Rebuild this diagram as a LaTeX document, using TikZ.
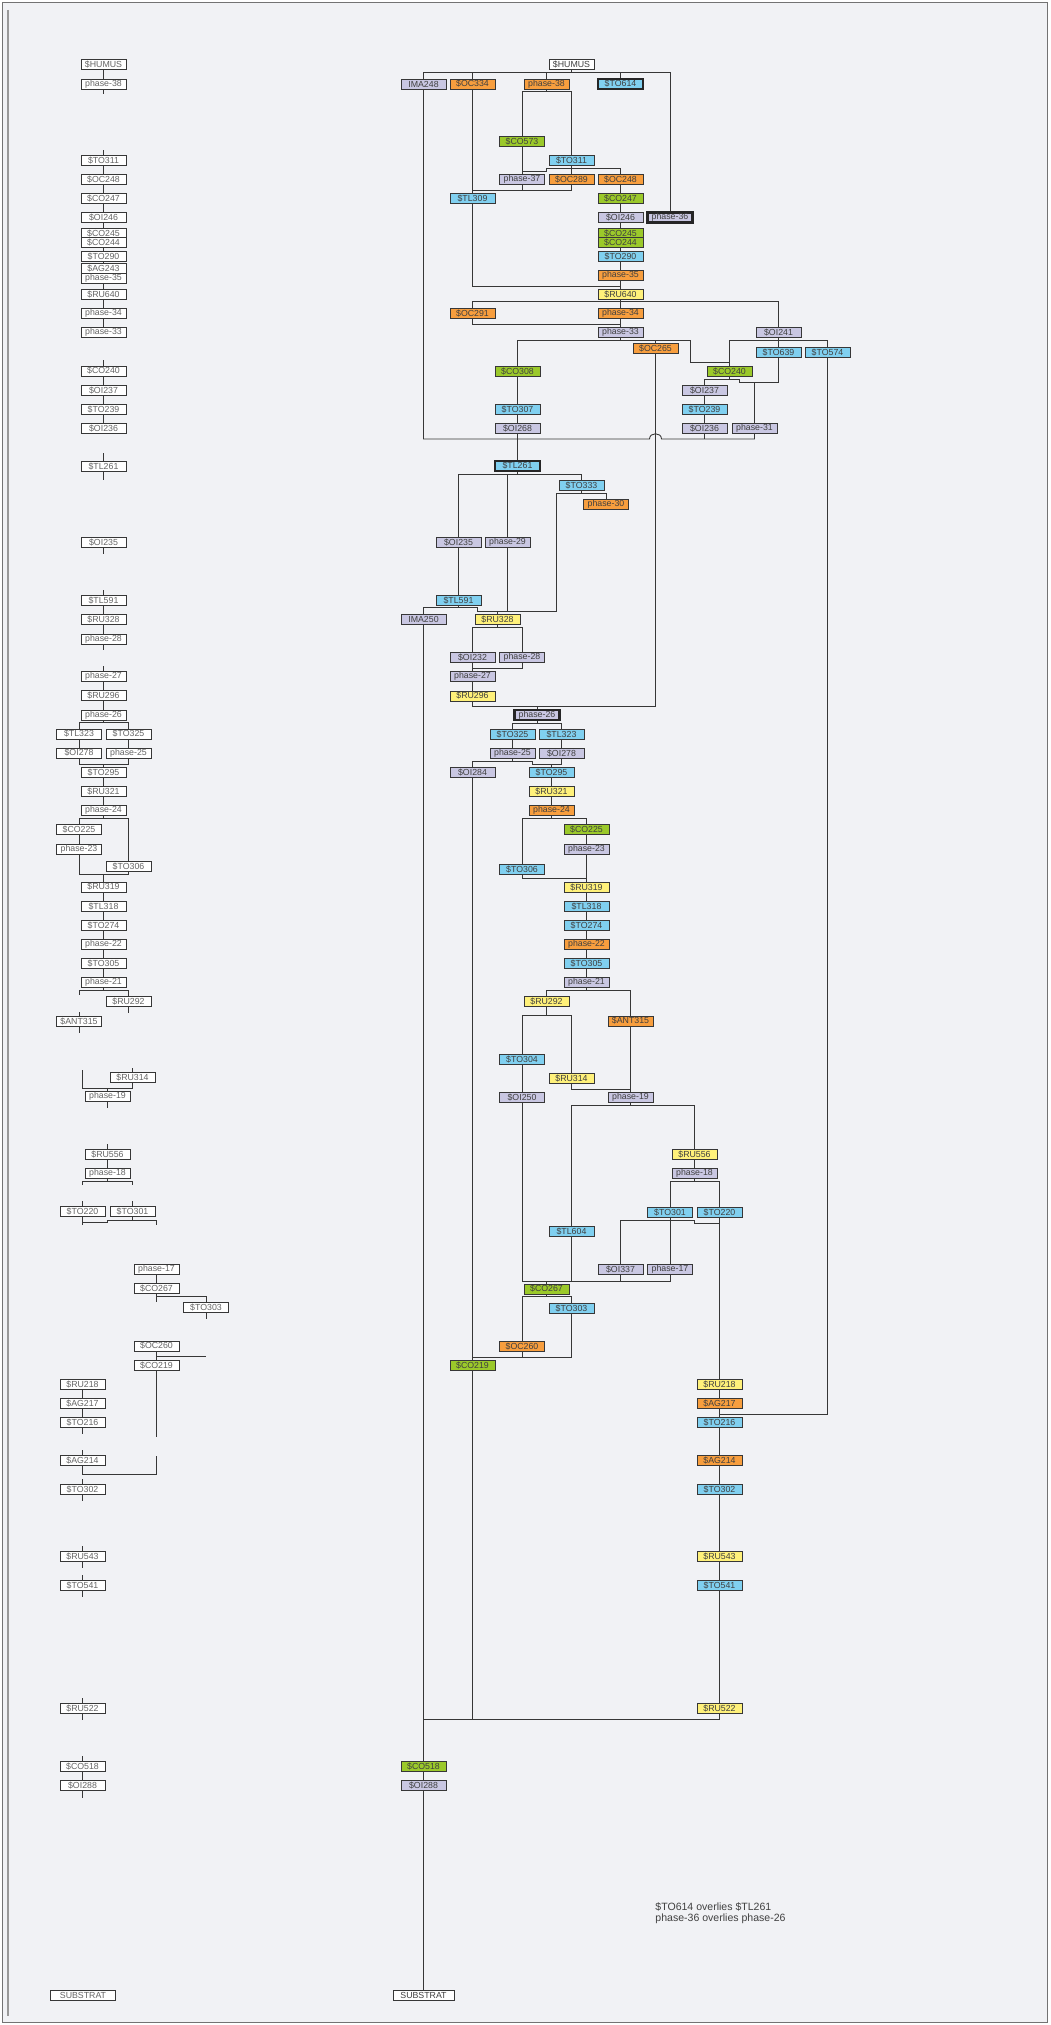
\documentclass[tikz,border=0pt]{standalone}
\usepackage{fontspec}
\setmainfont{Liberation Sans}
\definecolor{bgcol}{RGB}{241,242,245}
\definecolor{linecol}{RGB}{55,55,55}
\definecolor{orabox}{RGB}{247,158,62}
\definecolor{grebox}{RGB}{155,201,42}
\definecolor{cyabox}{RGB}{128,208,240}
\definecolor{lavbox}{RGB}{201,199,226}
\definecolor{yelbox}{RGB}{255,241,122}
\tikzset{
  unit/.style={
    rectangle,
    draw=linecol,
    line width=0.5pt,
    minimum width=9mm,
    minimum height=2mm,
    inner sep=0pt,
    text=black!75,
    font=\fontsize{5}{5}\selectfont
  },
  ora/.style={unit, fill=orabox},
  gre/.style={unit, fill=grebox},
  cya/.style={unit, fill=cyabox},
  lav/.style={unit, fill=lavbox},
  yel/.style={unit, fill=yelbox},
  wht/.style={unit, fill=white},
  seq/.style={unit, fill=white, text=black!60},
  overlie/.style={line width=1.3pt, draw=black!85}
}
\begin{document}
\begin{tikzpicture}[x=0.2mm, y=-0.2mm, line width=0.5pt, color=linecol]
  \useasboundingbox (0,0) rectangle (1050,2025);
  \fill[white] (0,0) rectangle (1050,2025);
  \draw[black!55, fill=bgcol] (2.5,2.5) rectangle (1047.5,2022.5);
  \draw[black!40, line width=1.2pt] (8,10) -- (8,2016);

  % Sequence column
  \node[seq] (lhumus) at (103.5,64.5) {\$HUMUS};
  \node[seq] (lph38) at (103.5,84) {phase-38};
  \node[seq] (lto311) at (103.5,160.5) {\$TO311};
  \node[seq] (loc248) at (103.5,179.5) {\$OC248};
  \node[seq] (lco247) at (103.5,198.5) {\$CO247};
  \node[seq] (loi246) at (103.5,217.5) {\$OI246};
  \node[seq] (lco245) at (103.5,233.5) {\$CO245};
  \node[seq] (lco244) at (103.5,242.5) {\$CO244};
  \node[seq] (lto290) at (103.5,256.5) {\$TO290};
  \node[seq] (lag243) at (103.5,268.5) {\$AG243};
  \node[seq] (lph35) at (103.5,278) {phase-35};
  \node[seq] (lru640) at (103.5,294.5) {\$RU640};
  \node[seq] (lph34) at (103.5,313.5) {phase-34};
  \node[seq] (lph33) at (103.5,332.5) {phase-33};
  \node[seq] (lco240) at (103.5,371) {\$CO240};
  \node[seq] (loi237) at (103.5,390.5) {\$OI237};
  \node[seq] (lto239) at (103.5,409.5) {\$TO239};
  \node[seq] (loi236) at (103.5,428.5) {\$OI236};
  \node[seq] (ltl261) at (103.5,466.5) {\$TL261};
  \node[seq] (loi235) at (103.5,542.5) {\$OI235};
  \node[seq] (ltl591) at (103.5,600.5) {\$TL591};
  \node[seq] (lru328) at (103.5,619.5) {\$RU328};
  \node[seq] (lph28) at (103.5,639) {phase-28};
  \node[seq] (lph27) at (103.5,676.5) {phase-27};
  \node[seq] (lru296) at (103.5,695.5) {\$RU296};
  \node[seq] (lph26) at (103.5,715) {phase-26};
  \node[seq] (ltl323) at (79,734) {\$TL323};
  \node[seq] (lto325) at (128.5,734) {\$TO325};
  \node[seq] (loi278) at (79,753) {\$OI278};
  \node[seq] (lph25) at (128.5,753) {phase-25};
  \node[seq] (lto295) at (103.5,772.5) {\$TO295};
  \node[seq] (lru321) at (103.5,791.5) {\$RU321};
  \node[seq] (lph24) at (103.5,810.5) {phase-24};
  \node[seq] (lco225) at (79,829.5) {\$CO225};
  \node[seq] (lph23) at (79,849) {phase-23};
  \node[seq] (lto306) at (128.5,866.5) {\$TO306};
  \node[seq] (lru319) at (103.5,887) {\$RU319};
  \node[seq] (ltl318) at (103.5,906.5) {\$TL318};
  \node[seq] (lto274) at (103.5,925.5) {\$TO274};
  \node[seq] (lph22) at (103.5,944.5) {phase-22};
  \node[seq] (lto305) at (103.5,963.5) {\$TO305};
  \node[seq] (lph21) at (103.5,982.5) {phase-21};
  \node[seq] (lru292) at (128.5,1001.5) {\$RU292};
  \node[seq] (lant315) at (79,1021.5) {\$ANT315};
  \node[seq] (lru314) at (132.5,1077.5) {\$RU314};
  \node[seq] (lph19) at (107.5,1096.5) {phase-19};
  \node[seq] (lru556) at (107.5,1154.5) {\$RU556};
  \node[seq] (lph18) at (107.5,1173.5) {phase-18};
  \node[seq] (lto220) at (82.5,1211.5) {\$TO220};
  \node[seq] (lto301) at (132.5,1211.5) {\$TO301};
  \node[seq] (lph17) at (156.5,1269.5) {phase-17};
  \node[seq] (lco267) at (156.5,1288.5) {\$CO267};
  \node[seq] (lto303) at (206,1307.5) {\$TO303};
  \node[seq] (loc260) at (156.5,1346) {\$OC260};
  \node[seq] (lco219) at (156.5,1365.5) {\$CO219};
  \node[seq] (lru218) at (82.5,1384.5) {\$RU218};
  \node[seq] (lag217) at (82.5,1403.5) {\$AG217};
  \node[seq] (lto216) at (82.5,1422.5) {\$TO216};
  \node[seq] (lag214) at (82.5,1460.5) {\$AG214};
  \node[seq] (lto302) at (82.5,1489.5) {\$TO302};
  \node[seq] (lru543) at (82.5,1556.5) {\$RU543};
  \node[seq] (lto541) at (82.5,1585.5) {\$TO541};
  \node[seq] (lru522) at (82.5,1708.5) {\$RU522};
  \node[seq] (lco518) at (82.5,1766.5) {\$CO518};
  \node[seq] (loi288) at (82.5,1785.5) {\$OI288};
  \node[seq, minimum width=13mm] (lsubstrat) at (83,1995.5) {SUBSTRAT};

  % Sequence column links
  \draw (lhumus.south) -- (lph38.north);
  \draw (lph38.south) -- ++(0,5);
  \draw (lto311.north) -- ++(0,-5);
  \draw (lto311.south) -- (loc248.north);
  \draw (loc248.south) -- (lco247.north);
  \draw (lco247.south) -- (loi246.north);
  \draw (loi246.south) -- (lco245.north);
  \draw (lco244.south) -- (lto290.north);
  \draw (lto290.south) -- (lag243.north);
  \draw (lph35.south) -- (lru640.north);
  \draw (lru640.south) -- (lph34.north);
  \draw (lph34.south) -- (lph33.north);
  \draw (lco240.north) -- ++(0,-6);
  \draw (lco240.south) -- (loi237.north);
  \draw (loi237.south) -- (lto239.north);
  \draw (lto239.south) -- (loi236.north);
  \draw (ltl261.north) -- ++(0,-8);
  \draw (ltl261.south) -- ++(0,8);
  \draw (loi235.south) -- ++(0,6);
  \draw (ltl591.north) -- ++(0,-5);
  \draw (ltl591.south) -- (lru328.north);
  \draw (lru328.south) -- (lph28.north);
  \draw (lph28.south) -- ++(0,6);
  \draw (lph27.north) -- ++(0,-5);
  \draw (lph27.south) -- (lru296.north);
  \draw (lru296.south) -- (lph26.north);
  \draw (lph26.south) -- (lph26 |- 0,722.5) -| (ltl323.north);
  \draw (lph26 |- 0,722.5) -| (lto325.north);
  \draw (ltl323.south) -- (loi278.north);
  \draw (lto325.south) -- (lph25.north);
  \draw (loi278.south) -- (loi278 |- 0,764) -| (lto295.north);
  \draw (lph25.south) -- (lph25 |- 0,764) -| (lto295.north);
  \draw (lto295.south) -- (lru321.north);
  \draw (lru321.south) -- (lph24.north);
  \draw (lph24.south) -- (lph24 |- 0,818.5) -| (lco225.north);
  \draw (lph24 |- 0,818.5) -| (lto306.north);
  \draw (lco225.south) -- (lph23.north);
  \draw (lph23.south) -- (lph23 |- 0,874.5) -| (lru319.north);
  \draw (lto306.south) -- (lto306 |- 0,874.5) -| (lru319.north);
  \draw (lru319.south) -- (ltl318.north);
  \draw (ltl318.south) -- (lto274.north);
  \draw (lto274.south) -- (lph22.north);
  \draw (lph22.south) -- (lto305.north);
  \draw (lto305.south) -- (lph21.north);
  \draw (lph21.south) -- (lph21 |- 0,990.5) -| (lru292.north);
  \draw (lph21 |- 0,990.5) -| (lant315 |- 0,994.5);
  \draw (lru292.south) -- ++(0,6);
  \draw (lant315.north) -- ++(0,-4);
  \draw (lant315.south) -- ++(0,6);
  \coordinate (lcut19) at (82.5,1070);
  \draw (lcut19) |- (lru314 |- 0,1088.5) -- (lru314.south);
  \draw (lru314.north) -- ++(0,-4);
  \draw (lph19 |- 0,1088.5) -- (lph19.north);
  \draw (lph19.south) -- ++(0,6);
  \draw (lru556.north) -- ++(0,-5);
  \draw (lru556.south) -- (lph18.north);
  \draw (lph18.south) -- (lph18 |- 0,1181.5);
  \draw (lto220 |- 0,1185) |- (lto301 |- 0,1181.5) -- (lto301 |- 0,1185);
  \draw (lto220.north) -- ++(0,-5);
  \draw (lto301.north) -- ++(0,-5);
  \draw (lto220.south) -- (lto220 |- 0,1225);
  \draw (lto220 |- 0,1222.5) -- (lph19 |- 0,1222.5) -- (lph19 |- 0,1220) -| (lph17 |- 0,1225);
  \draw (lto301.south) -- (lto301 |- 0,1220);
  \draw (lph17.south) -- (lco267.north);
  \draw (lco267.south) -- (lco267 |- 0,1301.5);
  \draw (lco267 |- 0,1296.5) -| (lto303.north);
  \draw (lto303.south) -- ++(0,6);
  \draw (loc260.south) -- (lco219.north);
  \draw (loc260 |- 0,1356.5) -- (lto303 |- 0,1356.5);
  \draw (lco219.south) -- (lco219 |- 0,1436.5);
  \draw (lru218.south) -- (lag217.north);
  \draw (lag217.south) -- (lto216.north);
  \draw (lto216.south) -- ++(0,6);
  \draw (lag214.north) -- ++(0,-5);
  \draw (lag214.south) -- (lag214 |- 0,1474) -| (lco219 |- 0,1455.5);
  \draw (lto302.north) -- ++(0,-5);
  \draw (lto302.south) -- ++(0,6);
  \draw (lru543.north) -- ++(0,-5);
  \draw (lru543.south) -- ++(0,6);
  \draw (lto541.north) -- ++(0,-5);
  \draw (lto541.south) -- ++(0,6);
  \draw (lru522.north) -- ++(0,-5);
  \draw (lru522.south) -- ++(0,6);
  \draw (lco518.north) -- ++(0,-5);
  \draw (lco518.south) -- (loi288.north);
  \draw (loi288.south) -- ++(0,7);

  % Matrix units
  \node[wht] (humus) at (571.5,64.5) {\$HUMUS};
  \node[lav] (ima248) at (423.5,84) {IMA248};
  \node[ora] (oc334) at (472.5,84) {\$OC334};
  \node[ora] (ph38) at (546.5,84) {phase-38};
  \node[cya, overlie] (to614) at (620.5,84) {\$TO614};
  \node[gre] (co573) at (522,141.5) {\$CO573};
  \node[cya] (to311) at (571.5,160.5) {\$TO311};
  \node[lav] (ph37) at (522,179.5) {phase-37};
  \node[ora] (oc289) at (571.5,179.5) {\$OC289};
  \node[ora] (oc248) at (620.5,179.5) {\$OC248};
  \node[cya] (tl309) at (472.5,198.5) {\$TL309};
  \node[gre] (co247) at (620.5,198.5) {\$CO247};
  \node[lav] (oi246) at (620.5,217.5) {\$OI246};
  \node[lav, overlie] (ph36) at (670,217.5) {phase-36};
  \node[gre] (co245) at (620.5,233.5) {\$CO245};
  \node[gre] (co244) at (620.5,242.5) {\$CO244};
  \node[cya] (to290) at (620.5,256.5) {\$TO290};
  \node[ora] (ph35) at (620.5,275.5) {phase-35};
  \node[yel] (ru640) at (620.5,294.5) {\$RU640};
  \node[ora] (oc291) at (472.5,313.5) {\$OC291};
  \node[ora] (ph34) at (620.5,313.5) {phase-34};
  \node[lav] (ph33) at (620.5,332.5) {phase-33};
  \node[lav] (oi241) at (778.5,332.5) {\$OI241};
  \node[ora] (oc265) at (655.5,348.5) {\$OC265};
  \node[cya] (to639) at (778.5,352.5) {\$TO639};
  \node[cya] (to574) at (827.5,352.5) {\$TO574};
  \node[gre] (co308) at (517.5,371.5) {\$CO308};
  \node[gre] (co240) at (729.5,371.5) {\$CO240};
  \node[lav] (oi237) at (704.5,390.5) {\$OI237};
  \node[cya] (to307) at (517.5,409.5) {\$TO307};
  \node[cya] (to239) at (704.5,409.5) {\$TO239};
  \node[lav] (oi268) at (517.5,428.5) {\$OI268};
  \node[lav] (oi236) at (704.5,428.5) {\$OI236};
  \node[lav] (ph31) at (754.5,428.5) {phase-31};
  \node[cya, overlie] (tl261) at (517.5,466) {\$TL261};
  \node[cya] (to333) at (581.5,485.5) {\$TO333};
  \node[ora] (ph30) at (606,504.5) {phase-30};
  \node[lav] (oi235) at (458.5,542.5) {\$OI235};
  \node[lav] (ph29) at (507.5,542.5) {phase-29};
  \node[cya] (tl591) at (458.5,600.5) {\$TL591};
  \node[lav] (ima250) at (423.5,619.5) {IMA250};
  \node[yel] (ru328) at (497.5,619.5) {\$RU328};
  \node[lav] (oi232) at (472.5,657.5) {\$OI232};
  \node[lav] (ph28) at (522,657.5) {phase-28};
  \node[lav] (ph27) at (472.5,676.5) {phase-27};
  \node[yel] (ru296) at (472.5,696) {\$RU296};
  \node[lav, overlie] (ph26) at (537,715) {phase-26};
  \node[cya] (to325) at (512.5,734.5) {\$TO325};
  \node[cya] (tl323) at (561.5,734.5) {\$TL323};
  \node[lav] (ph25) at (512.5,753.5) {phase-25};
  \node[lav] (oi278) at (561.5,753.5) {\$OI278};
  \node[lav] (oi284) at (472.5,772.5) {\$OI284};
  \node[cya] (to295) at (551.5,772.5) {\$TO295};
  \node[yel] (ru321) at (551.5,791.5) {\$RU321};
  \node[ora] (ph24) at (551.5,810.5) {phase-24};
  \node[gre] (co225) at (586.5,829.5) {\$CO225};
  \node[lav] (ph23) at (586.5,849) {phase-23};
  \node[cya] (to306) at (522,869.5) {\$TO306};
  \node[yel] (ru319) at (586.5,887.5) {\$RU319};
  \node[cya] (tl318) at (586.5,906.5) {\$TL318};
  \node[cya] (to274) at (586.5,925.5) {\$TO274};
  \node[ora] (ph22) at (586.5,944.5) {phase-22};
  \node[cya] (to305) at (586.5,963.5) {\$TO305};
  \node[lav] (ph21) at (586.5,982.5) {phase-21};
  \node[yel] (ru292) at (546.5,1001.5) {\$RU292};
  \node[ora] (ant315) at (630.5,1021) {\$ANT315};
  \node[cya] (to304) at (522,1059.5) {\$TO304};
  \node[yel] (ru314) at (571.5,1078.5) {\$RU314};
  \node[lav] (oi250) at (522,1097.5) {\$OI250};
  \node[lav] (ph19) at (630.5,1097.5) {phase-19};
  \node[yel] (ru556) at (694.5,1154.5) {\$RU556};
  \node[lav] (ph18) at (694.5,1173.5) {phase-18};
  \node[cya] (to301) at (670,1212.5) {\$TO301};
  \node[cya] (to220) at (719.5,1212.5) {\$TO220};
  \node[cya] (tl604) at (571.5,1231.5) {\$TL604};
  \node[lav] (oi337) at (620.5,1269.5) {\$OI337};
  \node[lav] (ph17) at (670,1269.5) {phase-17};
  \node[gre] (co267) at (546.5,1289) {\$CO267};
  \node[cya] (to303) at (571.5,1308.5) {\$TO303};
  \node[ora] (oc260) at (522,1346.5) {\$OC260};
  \node[gre] (co219) at (472.5,1365.5) {\$CO219};
  \node[yel] (ru218) at (719.5,1384.5) {\$RU218};
  \node[ora] (ag217) at (719.5,1403.5) {\$AG217};
  \node[cya] (to216) at (719.5,1422.5) {\$TO216};
  \node[ora] (ag214) at (719.5,1460.5) {\$AG214};
  \node[cya] (to302) at (719.5,1489.5) {\$TO302};
  \node[yel] (ru543) at (719.5,1556.5) {\$RU543};
  \node[cya] (to541) at (719.5,1585.5) {\$TO541};
  \node[yel] (ru522) at (719.5,1708.5) {\$RU522};
  \node[gre] (co518) at (423.5,1766.5) {\$CO518};
  \node[lav] (oi288) at (423.5,1785.5) {\$OI288};
  \node[wht, minimum width=12.2mm] (substrat) at (423.5,1995.5) {SUBSTRAT};

  \node[anchor=north west, align=left, inner sep=0pt, text=black!75,
        font=\fontsize{6}{6.4}\selectfont] (note) at (655,1902)
        {\$TO614 overlies \$TL261\\phase-36 overlies phase-26};

  % Matrix links
  \draw (humus.south) -- (humus |- 0,72.5) -| (ima248.north);
  \draw (humus |- 0,72.5) -| (oc334.north);
  \draw (humus |- 0,72.5) -| (ph38.north);
  \draw (humus |- 0,72.5) -| (to614.north);
  \draw (humus |- 0,72.5) -| (ph36.north);
  \draw (ph38.south) -- (ph38 |- 0,91.5) -| (co573.north);
  \draw (ph38 |- 0,91.5) -| (to311.north);
  \draw (co573.south) -- (ph37.north);
  \draw (to311.south) -- (oc289.north);
  \draw (to311 |- 0,168.5) -| (oc248.north);
  \draw (to311 |- 0,168.5) -- (ph38 |- 0,168.5) -- (ph38 |- 0,171) -| (ph37.north);
  \draw (oc334.south) -- (tl309.north);
  \draw (ph37.south) -- (ph37 |- 0,190) -| (tl309.north);
  \draw (oc289.south) -- (oc289 |- 0,190) -| (tl309.north);
  \draw (oc248.south) -- (co247.north);
  \draw (co247.south) -- (oi246.north);
  \draw (oi246.south) -- (co245.north);
  \draw (co244.south) -- (to290.north);
  \draw (to290.south) -- (ph35.north);
  \draw (ph35.south) -- (ru640.north);
  \draw (tl309.south) -- (tl309 |- 0,286.5) -| (ru640.north);
  \draw (ru640.south) -- (ru640 |- 0,301.5) -| (oc291.north);
  \draw (ru640 |- 0,301.5) -| (oi241.north);
  \draw (ru640.south) -- (ph34.north);
  \draw (ph34.south) -- (ph33.north);
  \draw (oc291.south) -- (oc291 |- 0,324.5) -| (ph33.north);
  \draw (ph33.south) -- (ph33 |- 0,340.5) -| (co308.north);
  \draw (ph33 |- 0,340.5) -| (oc265.north);
  \draw (ph33 |- 0,340.5) -- (690,340.5) |- (co240 |- 0,362.5) -- (co240.north);
  \draw (oi241.south) -- (oi241 |- 0,340.5) -| (co240.north);
  \draw (oi241 |- 0,340.5) -| (to574.north);
  \draw (oi241.south) -- (to639.north);
  \draw (co240.south) -- (co240 |- 0,379.5) -| (oi237.north);
  \draw (co240 |- 0,379.5) -- (739.5,379.5) |- (ph31 |- 0,382.5) -- (ph31.north);
  \draw (to639.south) -- (to639 |- 0,382.5) -| (ph31.north);
  \draw (co308.south) -- (to307.north);
  \draw (to307.south) -- (oi268.north);
  \draw (oi237.south) -- (to239.north);
  \draw (to239.south) -- (oi236.north);
  \draw (ima248.south) |- (649.5,439) .. controls (649.5,432) and (661.5,432) .. (661.5,439) -| (ph31.south);
  \draw (oi236.south) -- (oi236 |- 0,439);
  \draw (oi268.south) -- (tl261.north);
  \draw (oc265.south) -- (oc265 |- 0,706.5) -| (ph26.north);
  \draw (tl261.south) -- (tl261 |- 0,474) -| (oi235.north);
  \draw (tl261 |- 0,474) -| (ph29.north);
  \draw (tl261 |- 0,474) -| (to333.north);
  \draw (to333.south) -- (to333 |- 0,493.5) -| (ph30.north);
  \draw (to333 |- 0,493.5) -- (556.5,493.5) |- (ru328 |- 0,611) -- (ru328.north);
  \draw (oi235.south) -- (tl591.north);
  \draw (tl591.south) -- (tl591 |- 0,607.5) -| (ima250.north);
  \draw (tl591 |- 0,607.5) -- (477.5,607.5) |- (ru328 |- 0,611) -- (ru328.north);
  \draw (ph29.south) -- (ph29 |- 0,611) -| (ru328.north);
  \draw (ru328.south) -- (ru328 |- 0,627) -| (oi232.north);
  \draw (ru328 |- 0,627) -| (ph28.north);
  \draw (oi232.south) -- (ph27.north);
  \draw (ph28.south) -- (ph28 |- 0,668.5) -| (ph27.north);
  \draw (ph27.south) -- (ru296.north);
  \draw (ru296.south) -- (ru296 |- 0,706.5) -| (ph26.north);
  \draw (ph26.south) -- (ph26 |- 0,723.5) -| (to325.north);
  \draw (ph26 |- 0,723.5) -| (tl323.north);
  \draw (to325.south) -- (ph25.north);
  \draw (tl323.south) -- (oi278.north);
  \draw (ph25.south) -- (ph25 |- 0,761.5) -| (oi284.north);
  \draw (ph25 |- 0,761.5) -- (532,761.5) |- (to295 |- 0,764.5) -- (to295.north);
  \draw (oi278.south) -- (oi278 |- 0,764.5) -| (to295.north);
  \draw (to295.south) -- (ru321.north);
  \draw (ru321.south) -- (ph24.north);
  \draw (ph24.south) -- (ph24 |- 0,818.5) -| (co225.north);
  \draw (ph24 |- 0,818.5) -| (to306.north);
  \draw (co225.south) -- (ph23.north);
  \draw (ph23.south) -- (ru319.north);
  \draw (to306.south) -- (to306 |- 0,878.5) -| (ru319.north);
  \draw (ru319.south) -- (tl318.north);
  \draw (tl318.south) -- (to274.north);
  \draw (to274.south) -- (ph22.north);
  \draw (ph22.south) -- (to305.north);
  \draw (to305.south) -- (ph21.north);
  \draw (ph21.south) -- (ph21 |- 0,990.5) -| (ru292.north);
  \draw (ph21 |- 0,990.5) -| (ant315.north);
  \draw (ru292.south) -- (ru292 |- 0,1015.5) -| (to304.north);
  \draw (ru292 |- 0,1015.5) -| (ru314.north);
  \draw (to304.south) -- (oi250.north);
  \draw (ru314.south) -- (ru314 |- 0,1089.5) -| (ph19.north);
  \draw (ant315.south) -- (ph19.north);
  \draw (ph19.south) -- (ph19 |- 0,1105.5) -| (tl604.north);
  \draw (ph19 |- 0,1105.5) -| (ru556.north);
  \draw (ru556.south) -- (ph18.north);
  \draw (ph18.south) -- (ph18 |- 0,1181.5) -| (to301.north);
  \draw (ph18 |- 0,1181.5) -| (to220.north);
  \draw (to301.south) -- (to301 |- 0,1220) -| (oi337.north);
  \draw (to301.south) -- (ph17.north);
  \draw (to301 |- 0,1220) -- (ru556 |- 0,1220) -- (ru556 |- 0,1223.5) -| (ru218.north);
  \draw (to220.south) -- (ru218.north);
  \draw (oi250.south) -- (oi250 |- 0,1281) -| (co267.north);
  \draw (tl604.south) -- (tl604 |- 0,1281) -| (co267.north);
  \draw (oi337.south) -- (oi337 |- 0,1281) -| (co267.north);
  \draw (ph17.south) -- (ph17 |- 0,1281) -| (co267.north);
  \draw (co267.south) -- (co267 |- 0,1296.5) -| (oc260.north);
  \draw (co267 |- 0,1296.5) -| (to303.north);
  \draw (oi284.south) -- (co219.north);
  \draw (oc260.south) -- (oc260 |- 0,1357.5) -| (co219.north);
  \draw (to303.south) -- (to303 |- 0,1357.5) -| (co219.north);
  \draw (ru218.south) -- (ag217.north);
  \draw (ag217.south) -- (to216.north);
  \draw (to574.south) -- (to574 |- 0,1414.5) -| (to216.north);
  \draw (to216.south) -- (ag214.north);
  \draw (ag214.south) -- (to302.north);
  \draw (to302.south) -- (ru543.north);
  \draw (ru543.south) -- (to541.north);
  \draw (to541.south) -- (ru522.north);
  \draw (ima250.south) -- (co518.north);
  \draw (co219.south) -- (co219 |- 0,1719.5) -| (co518.north);
  \draw (ru522.south) -- (ru522 |- 0,1719.5) -| (co518.north);
  \draw (co518.south) -- (oi288.north);
  \draw (oi288.south) -- (substrat.north);
\end{tikzpicture}
\end{document}
